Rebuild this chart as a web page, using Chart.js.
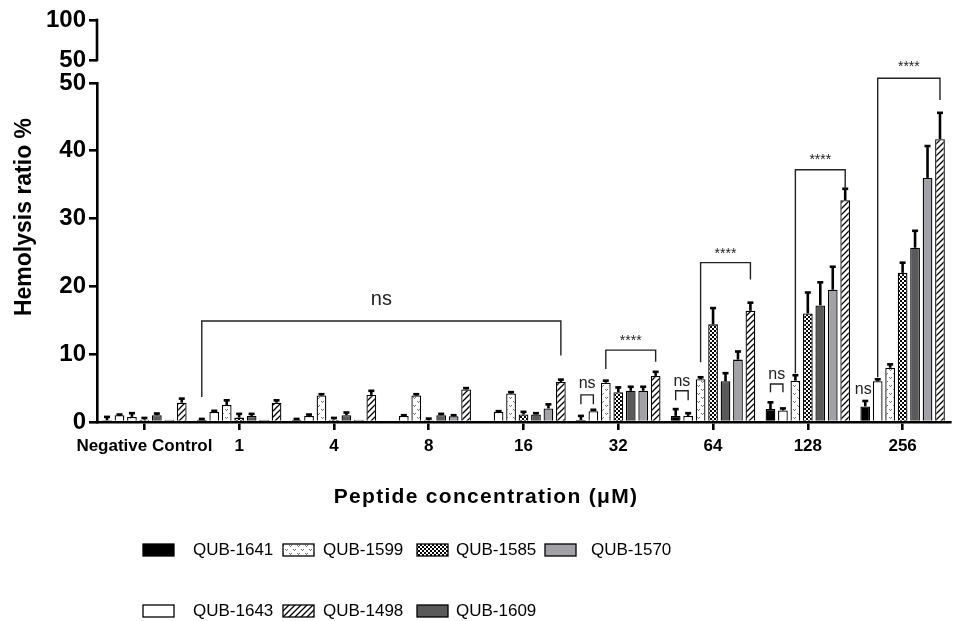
<!DOCTYPE html>
<html>
<head>
<meta charset="utf-8">
<script src="https://cdn.jsdelivr.net/npm/chart.js@4"></script>
<style>
  html, body { margin: 0; padding: 0; background: #fff; }
</style>
</head>
<body>
<canvas id="chart" width="954" height="621"></canvas>
<script>
// categories and series
const concentrations = ['Negative Control', '1', '4', '8', '16', '32', '64', '128', '256'];
const peptides = ['QUB-1641', 'QUB-1643', 'QUB-1599', 'QUB-1585', 'QUB-1609', 'QUB-1570', 'QUB-1498'];

// hemolysis ratio % (mean) per concentration
const qub1641 = [0.25, 0.35, 0.35, 0, 0, 0.3, 0.9, 1.9, 2.3];
const qub1643 = [1.0, 1.5, 0.9, 0.9, 1.5, 1.6, 0.9, 1.7, 6.0];
const qub1599 = [0.75, 2.5, 3.9, 3.9, 4.2, 5.8, 6.3, 6.1, 8.0];
const qub1585 = [0.35, 0.65, 0.35, 0.25, 1.1, 4.4, 14.4, 16.0, 22.0];
const qub1609 = [1.0, 0.9, 1.0, 1.0, 1.1, 4.6, 6.0, 17.2, 25.7];
const qub1570 = [0.35, 0.35, 0.35, 0.85, 2.0, 4.6, 9.2, 19.5, 36.0];
const qub1498 = [2.85, 2.85, 4.0, 4.8, 5.9, 6.8, 16.4, 32.7, 41.7];

// error (upper SD)
const err1641 = [0.5, 0.1, 0.1, 0, 0, 0.6, 1.0, 1.0, 0.8];
const err1643 = [0.1, 0.15, 0.2, 0.1, 0.1, 0.2, 0.4, 0.3, 0.3];
const err1599 = [0.55, 0.7, 0.2, 0.2, 0.2, 0.3, 0.3, 0.8, 0.5];
const err1585 = [0.25, 0.55, 0.25, 0.25, 0.4, 0.7, 2.4, 3.1, 1.5];
const err1609 = [0.25, 0.3, 0.4, 0.2, 0.2, 0.6, 1.2, 3.4, 2.5];
const err1570 = [0, 0, 0, 0.15, 0.6, 0.6, 1.2, 3.4, 4.7];
const err1498 = [0.6, 0.35, 0.6, 0.2, 0.35, 0.6, 1.2, 1.7, 3.9];

// tick labels
const lowerTicks = [0, 10, 20, 30, 40, 50];
const upperTicks = [50, 100];

// significance marks: [fromCat, fromSeries, toCat, toSeries, barValue, leftEnd, rightEnd, label, labelValue]
const significance = [
  [1, 0, 4, 6, 14.9, 3.7, 9.8, 'ns', 18.0],
  [5, 0, 5, 1, 4.0, 2.6, 2.6, 'ns', 5.7],
  [5, 2, 5, 6, 10.6, 7.8, 8.9, '****', 11.9],
  [6, 0, 6, 1, 4.6, 3.2, 3.2, 'ns', 5.9],
  [6, 2, 6, 6, 23.5, 8.8, 21.0, '****', 24.8],
  [7, 0, 7, 1, 5.6, 4.4, 4.4, 'ns', 7.0],
  [7, 2, 7, 6, 37.2, 7.2, 34.3, '****', 38.6],
  [8, 1, 8, 6, 50.7, 6.6, 47.5, '****', 52.3]
];
// lone label: [cat, series, labelValue, text]
const loneLabels = [[8, 0, 4.8, 'ns']];

function makePattern(kind) {
  const c = document.createElement('canvas');
  const g = c.getContext('2d');
  if (kind === 'hatch') {
    c.width = 6; c.height = 6;
    g.fillStyle = '#fff'; g.fillRect(0, 0, 6, 6);
    g.strokeStyle = '#000'; g.lineWidth = 1.3;
    g.beginPath();
    g.moveTo(-1, 7); g.lineTo(7, -1);
    g.moveTo(-1, 1); g.lineTo(1, -1);
    g.moveTo(5, 7); g.lineTo(7, 5);
    g.stroke();
  } else if (kind === 'checker') {
    c.width = 4; c.height = 4;
    g.fillStyle = '#fff'; g.fillRect(0, 0, 4, 4);
    g.fillStyle = '#000';
    g.fillRect(0, 0, 2, 2); g.fillRect(2, 2, 2, 2);
  } else {
    c.width = 8; c.height = 8;
    g.fillStyle = '#fff'; g.fillRect(0, 0, 8, 8);
    g.fillStyle = '#777';
    g.fillRect(1, 1, 1, 1); g.fillRect(2, 2, 1, 1); g.fillRect(3, 1, 1, 1);
    g.fillRect(5, 5, 1, 1); g.fillRect(6, 6, 1, 1); g.fillRect(7, 5, 1, 1);
  }
  return document.getElementById('chart').getContext('2d').createPattern(c, 'repeat');
}

const fills = ['#000000', '#ffffff', makePattern('dots'), makePattern('checker'), '#5a5a5a', '#a3a1a8', makePattern('hatch')];
const seriesData = [qub1641, qub1643, qub1599, qub1585, qub1609, qub1570, qub1498];
const seriesErr = [err1641, err1643, err1599, err1585, err1609, err1570, err1498];

const datasets = peptides.map((name, i) => ({
  label: name,
  data: seriesData[i],
  errors: seriesErr[i],
  backgroundColor: fills[i],
  borderColor: '#000',
  borderWidth: 1.3,
  categoryPercentage: 0.92,
  barPercentage: 0.78,
  yAxisID: 'y'
}));

const FONT = "'Liberation Sans', Arial, sans-serif";

const extras = {
  id: 'extras',
  afterDatasetsDraw(chart) {
    const ctx = chart.ctx;
    const ys = chart.scales.y;
    ctx.save();
    ctx.strokeStyle = '#000';
    ctx.lineCap = 'butt';
    chart.data.datasets.forEach((ds, di) => {
      chart.getDatasetMeta(di).data.forEach((bar, i) => {
        const e = ds.errors[i];
        if (!e) return;
        const top = ys.getPixelForValue(ds.data[i] + e);
        ctx.lineWidth = 2.6;
        ctx.beginPath(); ctx.moveTo(bar.x, bar.y); ctx.lineTo(bar.x, top); ctx.stroke();
        ctx.beginPath(); ctx.moveTo(bar.x - 3, top); ctx.lineTo(bar.x + 3, top); ctx.stroke();
      });
    });

    // significance brackets
    const barX = (cat, s) => chart.getDatasetMeta(s).data[cat].x;
    ctx.strokeStyle = '#222';
    ctx.fillStyle = '#222';
    ctx.lineWidth = 1.4;
    ctx.textAlign = 'center';
    ctx.textBaseline = 'middle';
    significance.forEach(([c1, s1, c2, s2, v, l, r, text, tv]) => {
      const x1 = barX(c1, s1), x2 = barX(c2, s2);
      const yb = ys.getPixelForValue(v);
      ctx.beginPath();
      ctx.moveTo(x1, ys.getPixelForValue(l));
      ctx.lineTo(x1, yb); ctx.lineTo(x2, yb);
      ctx.lineTo(x2, ys.getPixelForValue(r));
      ctx.stroke();
      const big = c1 !== c2;
      ctx.font = (text === 'ns' ? (big ? '20px ' : '16px ') : '14px ') + FONT;
      ctx.fillText(text, (x1 + x2) / 2, ys.getPixelForValue(tv));
    });
    loneLabels.forEach(([c, s, tv, text]) => {
      ctx.font = '16px ' + FONT;
      ctx.fillText(text, barX(c, s) - 2, ys.getPixelForValue(tv));
    });
    ctx.restore();
  },
  afterDraw(chart) {
    const ctx = chart.ctx;
    const yt = chart.scales.yTop;
    ctx.save();
    // upper axis segment
    ctx.strokeStyle = '#000';
    ctx.lineWidth = 2.6;
    ctx.beginPath();
    ctx.moveTo(yt.right, yt.getPixelForValue(100) - 1.3);
    ctx.lineTo(yt.right, yt.getPixelForValue(50) + 1.3);
    ctx.stroke();

    // axis titles
    ctx.fillStyle = '#000';
    ctx.textAlign = 'center';
    ctx.textBaseline = 'middle';
    ctx.font = 'bold 21px ' + FONT;
    ctx.letterSpacing = '1.3px';
    ctx.fillText('Peptide concentration (\u03bcM)', 486, 497);
    ctx.letterSpacing = '0px';
    ctx.save();
    ctx.translate(25, 217);
    ctx.rotate(-Math.PI / 2);
    ctx.font = 'bold 23px ' + FONT;
    ctx.fillText('Hemolysis ratio %', 0, 0);
    ctx.restore();

    // legend, column-wise
    const cols = [[0, 1], [2, 6], [3, 4], [5]];
    const colX = [143, 283, 417, 545];
    const textOff = [50, 40, 39, 46];
    const rowY = [550, 611];
    ctx.textAlign = 'left';
    ctx.font = '17px ' + FONT;
    cols.forEach((col, ci) => {
      col.forEach((di, ri) => {
        const ds = chart.data.datasets[di];
        const x = colX[ci], y = rowY[ri];
        ctx.fillStyle = ds.backgroundColor;
        ctx.fillRect(x, y - 6, 31, 12);
        ctx.strokeStyle = '#000';
        ctx.lineWidth = 1.3;
        ctx.strokeRect(x, y - 6, 31, 12);
        ctx.fillStyle = '#000';
        ctx.fillText(ds.label, x + textOff[ci], y);
      });
    });
    ctx.restore();
  }
};

new Chart(document.getElementById('chart'), {
  type: 'bar',
  data: { labels: concentrations, datasets: datasets },
  options: {
    responsive: false,
    animation: false,
    layout: { padding: { top: 20, right: 4, left: 0, bottom: 0 } },
    plugins: { legend: { display: false }, tooltip: { enabled: false } },
    scales: {
      x: {
        grid: { drawOnChartArea: false, offset: false, tickLength: 8, lineWidth: 2.6, color: '#000' },
        border: { color: '#000', width: 2.6 },
        ticks: { color: '#000', font: { family: FONT, size: 17, weight: 'bold' }, padding: 6, maxRotation: 0, autoSkip: false },
        afterFit: s => { s.height = 199; }
      },
      y: {
        stack: 'hemo',
        stackWeight: 339,
        weight: 0,
        min: 0,
        max: 50,
        afterBuildTicks: s => { s.ticks = lowerTicks.map(v => ({ value: v })); },
        grid: { drawOnChartArea: false, tickLength: 8, lineWidth: 2.6, color: '#000' },
        border: { color: '#000', width: 2.6 },
        ticks: { color: '#000', font: { family: FONT, size: 24, weight: 'bold' }, padding: 3 },
        afterFit: s => { s.width = 97; }
      },
      yTop: {
        type: 'linear',
        position: 'left',
        stack: 'hemo',
        stackWeight: 63,
        weight: 1,
        min: 21.25,
        max: 100,
        afterBuildTicks: s => { s.ticks = upperTicks.map(v => ({ value: v })); },
        grid: { drawOnChartArea: false, tickLength: 8, lineWidth: 2.6, color: '#000' },
        border: { display: false },
        ticks: { color: '#000', font: { family: FONT, size: 24, weight: 'bold' }, padding: 3 },
        afterFit: s => { s.width = 97; }
      }
    }
  },
  plugins: [extras]
});
</script>
</body>
</html>
